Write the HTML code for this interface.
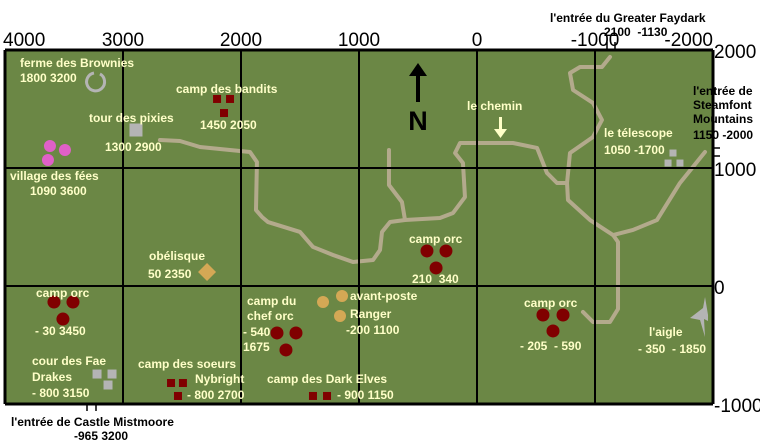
<!DOCTYPE html>
<html><head><meta charset="utf-8">
<style>
html,body{margin:0;padding:0;background:#fff;}
svg{display:block;font-family:"Liberation Sans",Arial,sans-serif;}
.lb{fill:#ffffc8;font-weight:bold;font-size:12px;}
.bk{fill:#000;font-weight:bold;font-size:12px;}
.tk{fill:#000;font-size:19px;}
</style></head>
<body>
<svg id="map" width="760" height="444" viewBox="0 0 760 444" xmlns="http://www.w3.org/2000/svg">
<rect x="5" y="50" width="708" height="354" fill="#6b8745"/>
<g id="trails"></g>
<g id="grid"></g>
<g id="marks"></g>
<g id="labels">
<text class="lb" x="20" y="67">ferme des Brownies</text>
<text class="lb" x="20" y="82">1800 3200</text>
<text class="lb" x="176" y="93">camp des bandits</text>
<text class="lb" x="200" y="129">1450 2050</text>
<text class="lb" x="89" y="122">tour des pixies</text>
<text class="lb" x="105" y="151">1300 2900</text>
<text class="lb" x="10" y="180">village des fées</text>
<text class="lb" x="30" y="195">1090 3600</text>
<text class="lb" x="149" y="260">obélisque</text>
<text class="lb" x="148" y="278">50 2350</text>
<text class="lb" x="36" y="297">camp orc</text>
<text class="lb" x="35" y="335">- 30 3450</text>
<text class="lb" x="32" y="365">cour des Fae</text>
<text class="lb" x="32" y="381">Drakes</text>
<text class="lb" x="32" y="397">- 800 3150</text>
<text class="lb" x="138" y="368">camp des soeurs</text>
<text class="lb" x="195" y="383">Nybright</text>
<text class="lb" x="187" y="399">- 800 2700</text>
<text class="lb" x="247" y="305">camp du</text>
<text class="lb" x="247" y="320">chef orc</text>
<text class="lb" x="243" y="336">- 540</text>
<text class="lb" x="243" y="351">1675</text>
<text class="lb" x="350" y="300">avant-poste</text>
<text class="lb" x="350" y="318">Ranger</text>
<text class="lb" x="346" y="334">-200 1100</text>
<text class="lb" x="267" y="383">camp des Dark Elves</text>
<text class="lb" x="337" y="399">- 900 1150</text>
<text class="lb" x="409" y="243">camp orc</text>
<text class="lb" x="412" y="283">210&#160;&#160;340</text>
<text class="lb" x="524" y="307">camp orc</text>
<text class="lb" x="520" y="350">- 205&#160;&#160;- 590</text>
<text class="lb" x="649" y="336">l'aigle</text>
<text class="lb" x="638" y="353">- 350&#160;&#160;- 1850</text>
<text class="lb" x="467" y="110">le chemin</text>
<text class="lb" x="604" y="137">le télescope</text>
<text class="lb" x="604" y="154">1050 -1700</text>
<text class="bk" x="550" y="22">l'entrée du Greater Faydark</text>
<text class="bk" x="604" y="36" font-size="11" font-weight="normal">2100&#160;&#160;-1130</text>
<text class="bk" x="693" y="95">l'entrée de</text>
<text class="bk" x="693" y="109">Steamfont</text>
<text class="bk" x="693" y="123">Mountains</text>
<text class="bk" x="693" y="139">1150 -2000</text>
<text class="bk" x="11" y="426">l'entrée de Castle Mistmoore</text>
<text class="bk" x="74" y="440">-965 3200</text>
<text x="418" y="130" text-anchor="middle" font-size="27" font-weight="bold" fill="#000">N</text>
</g>
<g>
<rect x="416" y="72" width="4" height="30" fill="#000"/>
<polygon points="418,63 409,76 427,76" fill="#000"/>
</g>
<g>
<rect x="499" y="117" width="3" height="13" fill="#ffffc8"/>
<polygon points="494,129 507,129 500.5,138" fill="#ffffc8"/>
</g>
<g stroke="#000" stroke-width="1.5">
<line x1="607" y1="42" x2="607" y2="50"/><line x1="615" y1="42" x2="615" y2="50"/>
<line x1="713" y1="148" x2="720" y2="148"/><line x1="713" y1="156" x2="720" y2="156"/>
<line x1="87" y1="404" x2="87" y2="411"/><line x1="96" y1="404" x2="96" y2="411"/>
</g>
</svg>
<script>
const xTicks = [4000, 3000, 2000, 1000, 0, -1000, -2000];
const yTicks = [2000, 1000, 0, -1000];
const trailMain = [[2687,1237],[2517,1229],[2348,1178],[1924,1136],[1865,1051],[1873,644],[1822,585],[1771,542],[1500,458],[1390,331],[1220,263],[1051,203],[881,220],[822,305],[805,458],[737,542],[610,559],[314,576],[203,619],[102,754],[119,1042],[186,1127],[144,1212],[-305,1212],[-509,1170],[-593,958],[-678,873],[-763,873],[-771,729],[-958,559],[-1153,432],[-1195,373],[-1195,-195],[-1127,-305],[-983,-305],[-898,-220]];
const trailNorth = [[-763,873],[-788,1127],[-983,1263],[-1059,1407],[-983,1551],[-814,1661],[-788,1805],[-873,1856],[-1059,1856],[-1127,1941]];
const trailEast = [[-1153,432],[-1322,475],[-1525,559],[-1720,873],[-1932,1136]];
const trailBranch = [[746,1153],[746,856],[636,712],[610,559]];
const brownies = [[3229,1729]];
const bandits = [[2203,1585],[2093,1585],[2144,1466]];
const pixies = [[2890,1322]];
const fees = [[3619,1186],[3492,1153],[3636,1068]];
const obelisk = [[2288,119]];
const orcCamps = [[3585,-136],[3424,-136],[3509,-280],[424,297],[263,297],[347,153],[-559,-246],[-729,-246],[-644,-381],[1695,-398],[1534,-398],[1619,-542]];
const rangers = [[1305,-136],[1144,-85],[1161,-254]];
const soeurs = [[2593,-822],[2492,-822],[2534,-932]];
const darkElves = [[1390,-932],[1271,-932]];
const faeDrakes = [[3220,-746],[3093,-746],[3127,-839]];
const telescope = [[-1661,1127],[-1619,1042],[-1720,1042]];
const eagle = [[-1873,-271]];

const NS = 'http://www.w3.org/2000/svg';
const X0 = 477, Y0 = 286, K = 0.118;
function sx(v){ return X0 - v*K; }
function sy(v){ return Y0 - v*K; }
function mk(tag, attrs, parent){
  const e = document.createElementNS(NS, tag);
  for (const k in attrs) e.setAttribute(k, attrs[k]);
  parent.appendChild(e);
  return e;
}
const trails = document.getElementById('trails');
const grid = document.getElementById('grid');
const marks = document.getElementById('marks');

[[trailMain,'trail-main'],[trailNorth,'trail-north'],[trailEast,'trail-east'],[trailBranch,'trail-branch']].forEach(([pts,name])=>{
  const p = mk('polyline',{points:pts.map(q=>sx(q[0])+','+sy(q[1])).join(' '),fill:'none',stroke:'#b3aa8c','stroke-width':4,'stroke-linejoin':'round','stroke-linecap':'round'},trails);
  
  
});

xTicks.forEach((v,i)=>{
  const l = mk('line',{x1:sx(v),x2:sx(v),y1:sy(2000),y2:sy(-1000),stroke:'#000','stroke-width':(i==0||i==xTicks.length-1)?3:2},grid);
  
  
  const anchor = i==0?'start':(i==xTicks.length-1?'end':'middle');
  const t = mk('text',{x:i==0?3:(i==xTicks.length-1?713:sx(v)),y:46,'text-anchor':anchor,class:'tk'},grid);
  t.textContent = String(v);
  
  
});
yTicks.forEach((v,i)=>{
  const l = mk('line',{x1:sx(4000),x2:sx(-2000),y1:sy(v),y2:sy(v),stroke:'#000','stroke-width':(i==0||i==yTicks.length-1)?3:2},grid);
  
  
  const t = mk('text',{x:714,y:sy(v)+8,class:'tk'},grid);
  t.textContent = String(v);
  
  
});

brownies.forEach(p=>{
  const cx=sx(p[0]), cy=sy(p[1]);
  const e = mk('path',{d:`M ${cx+4} ${cy-8} A 9 9 0 1 1 ${cx-2} ${cy-9}`,fill:'none',stroke:'#b4b4b4','stroke-width':3},marks);
  
  
});
function squares(arr, s, color, name){
  arr.forEach(p=>{
    const e = mk('rect',{x:sx(p[0])-s/2,y:sy(p[1])-s/2,width:s,height:s,fill:color},marks);
    
    
  });
}
squares(bandits, 8, '#800000', 'bandit-camp-marker');
squares(pixies, 13, '#b4b4b4', 'pixie-tower-marker');
squares(soeurs, 8, '#800000', 'soeurs-camp-marker');
squares(darkElves, 8, '#800000', 'dark-elves-marker');
squares(faeDrakes, 9, '#b4b4b4', 'fae-drakes-marker');
squares(telescope, 7, '#b4b4b4', 'telescope-marker');
function dots(arr, r, color, name){
  arr.forEach(p=>{
    const e = mk('circle',{cx:sx(p[0]),cy:sy(p[1]),r:r,fill:color},marks);
    
    
  });
}
dots(fees, 6, '#e060c8', 'fairy-village-marker');
dots(orcCamps, 6.5, '#800000', 'orc-camp-marker');
dots(rangers, 6, '#d4a855', 'ranger-outpost-marker');
obelisk.forEach(p=>{
  const cx=sx(p[0]), cy=sy(p[1]);
  const e = mk('polygon',{points:`${cx},${cy-9} ${cx+9},${cy} ${cx},${cy+9} ${cx-9},${cy}`,fill:'#d4a855'},marks);
  
  
});
eagle.forEach(p=>{
  const cx=sx(p[0]), cy=sy(p[1]);
  const e = mk('polygon',{points:`${cx+7},${cy-21} ${cx+5},${cy-10} ${cx-8},${cy} ${cx+2},${cy+2} ${cx+7},${cy+19} ${cx+6},${cy+1} ${cx+10},${cy+3} ${cx+10},${cy-3}`,fill:'#b4b4b4'},marks);
  
  
});
</script>
</body></html>
